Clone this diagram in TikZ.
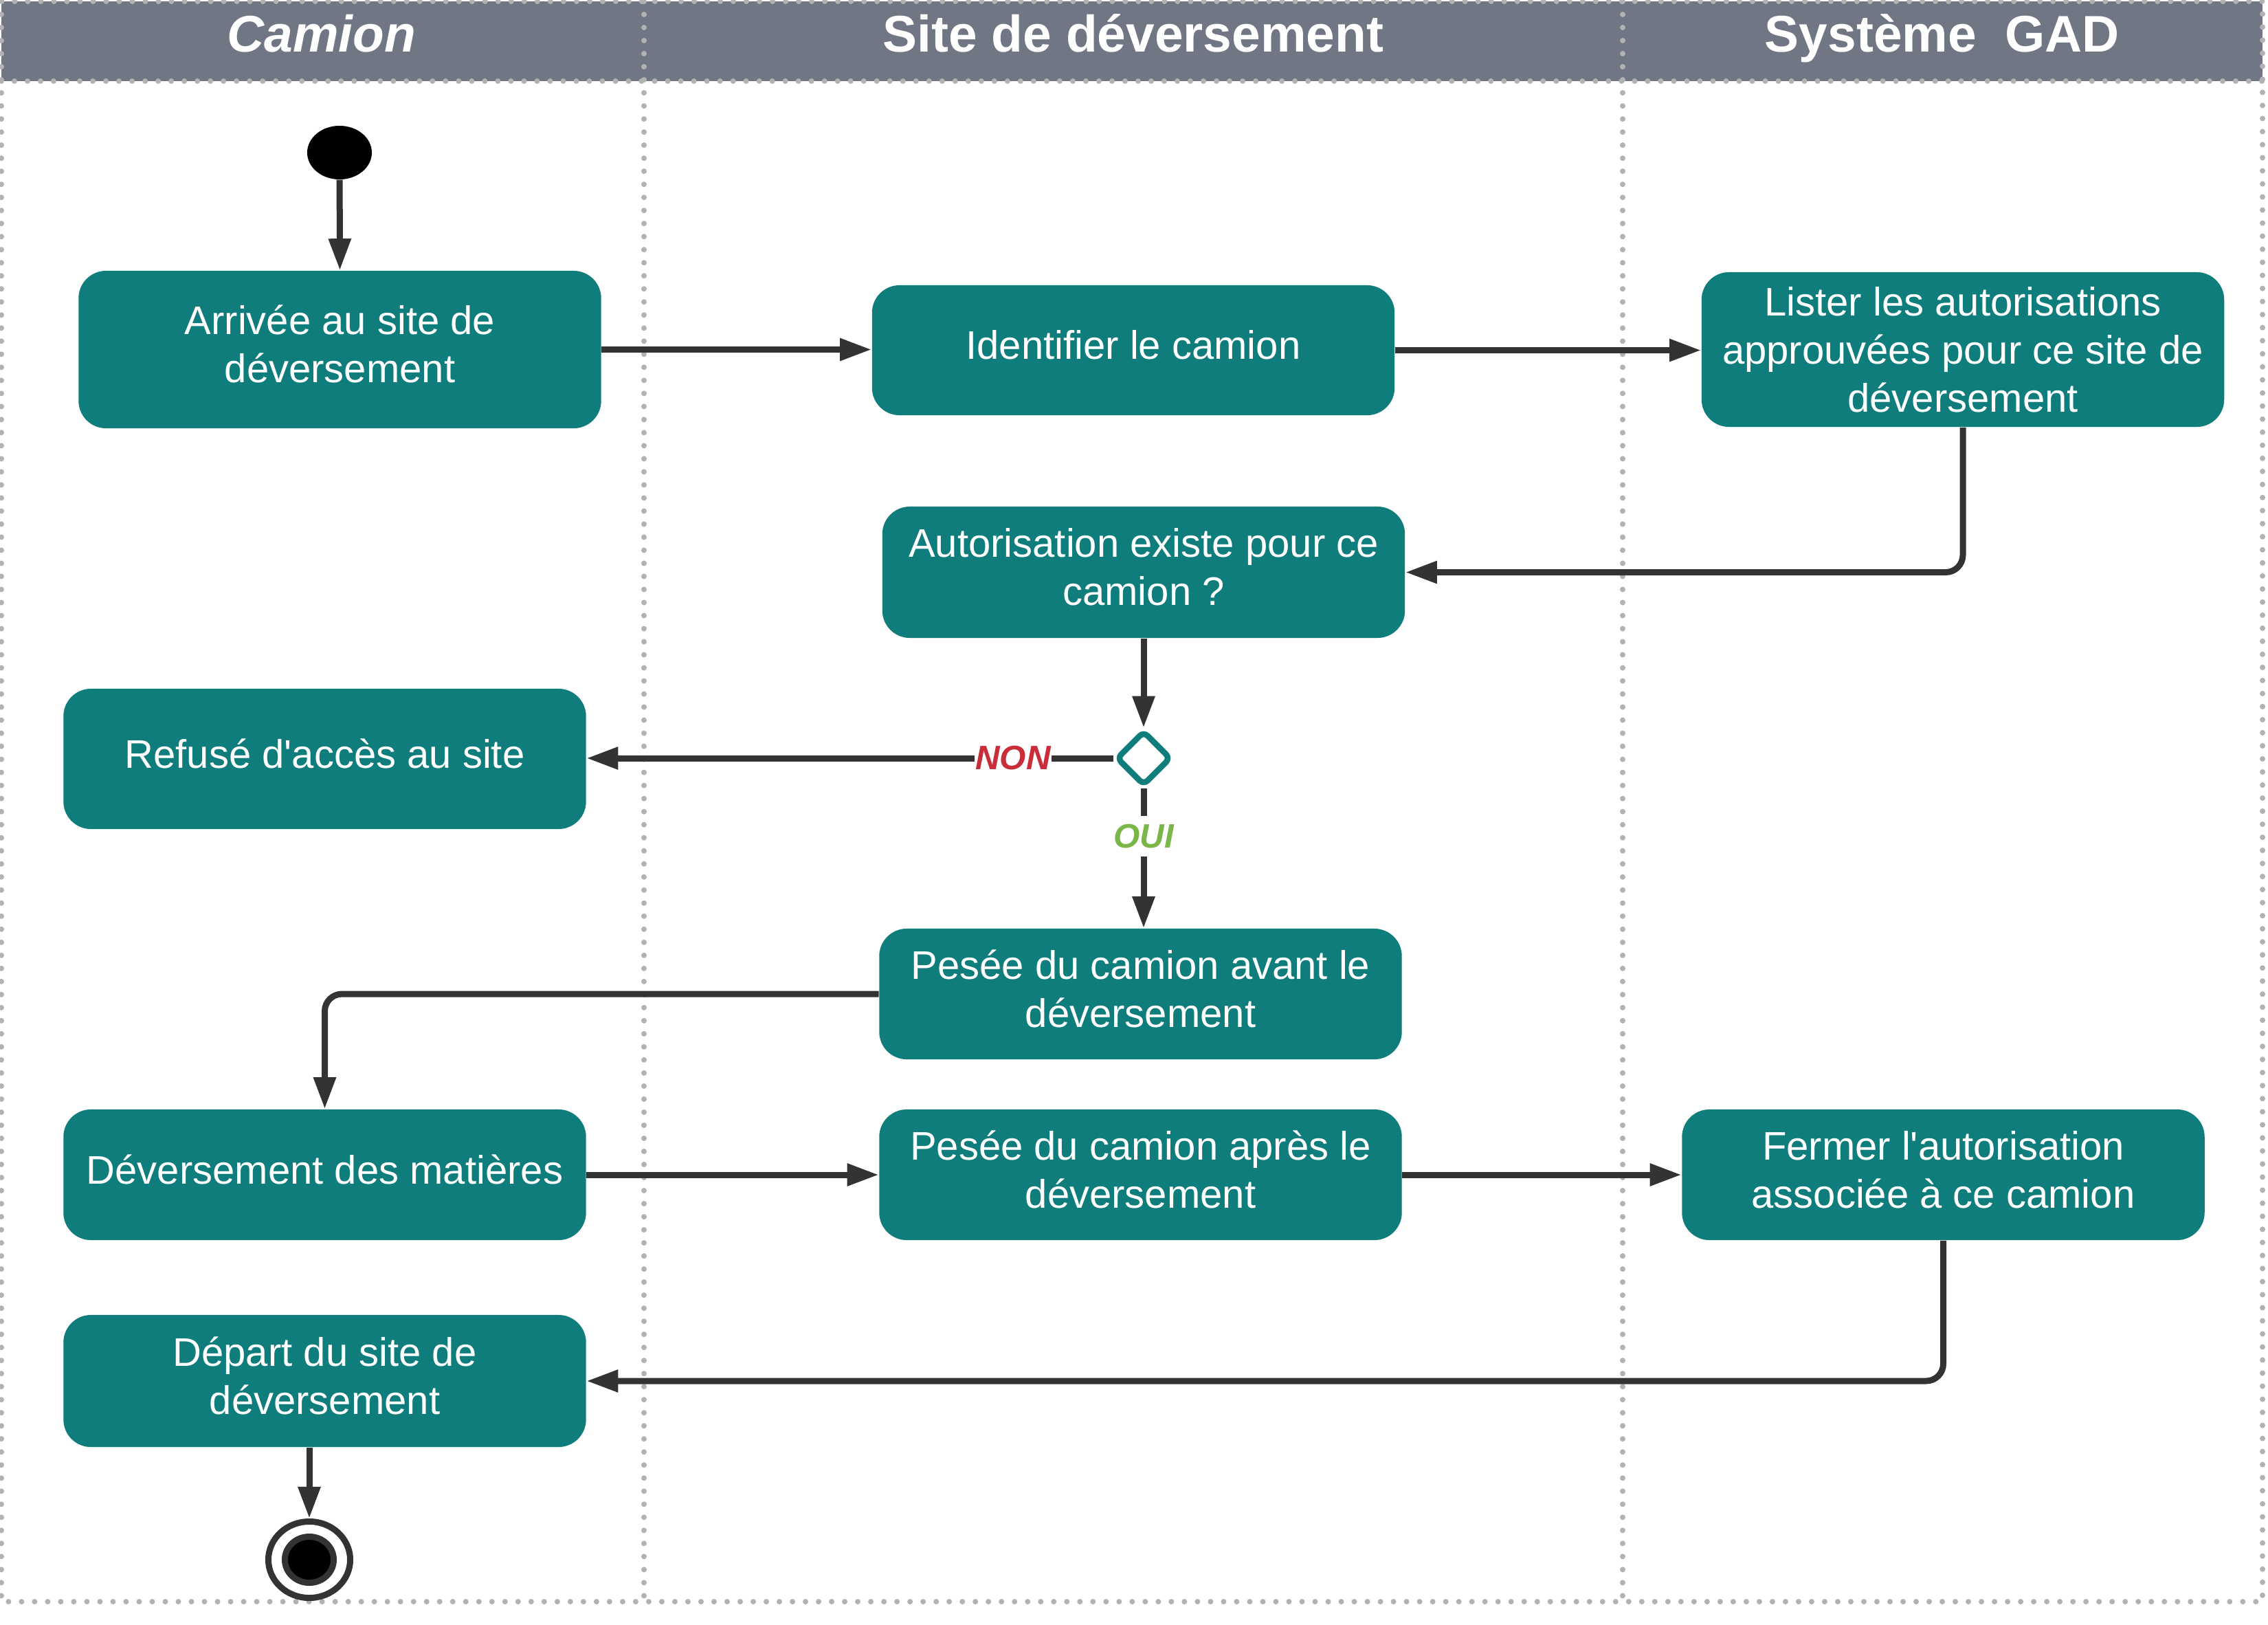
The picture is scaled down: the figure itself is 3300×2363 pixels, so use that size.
\documentclass[tikz,border=0pt]{standalone}
\usepackage{fontspec}
\setmainfont{Liberation Sans}[Ligatures=TeXOff]
\usetikzlibrary{arrows.meta,shapes.geometric}
\definecolor{tealbox}{HTML}{0E7D7B}
\definecolor{hdrgray}{HTML}{707684}
\definecolor{dotgray}{HTML}{B2B2B2}
\definecolor{darkline}{HTML}{333333}
\definecolor{nonred}{HTML}{C92D39}
\definecolor{ouigreen}{HTML}{7AB648}
\begin{document}
\begin{tikzpicture}[x=0.01cm,y=-0.01cm,
  box/.style={rectangle, rounded corners=0.4cm, fill=tealbox, text=white, align=center,
    minimum width=7.6cm, inner sep=0pt, text depth=0.16cm, font=\fontsize{16.5pt}{19.9pt}\selectfont},
  arr/.style={draw=darkline, line width=0.09cm, -{Triangle[length=0.46cm,width=0.31cm]}},
  lane/.style={draw=dotgray, line width=0.08cm, dash pattern=on 0pt off 0.19cm, line cap=round},
  hdr/.style={text=white, font=\fontsize{21.3pt}{25pt}\selectfont\bfseries, anchor=base, inner sep=0pt},
  lbl/.style={fill=white, font=\fontsize{14pt}{16pt}\selectfont\bfseries\itshape, inner xsep=0.01cm, inner ysep=0.12cm}
]
\useasboundingbox (0,0) rectangle (3300,2363);
% header band
\fill[hdrgray] (2,2) rectangle (3292,118);
% swimlane borders
\draw[lane] (2,2) rectangle (3292,2330);
\draw[lane] (2,118) -- (3292,118);
\draw[lane] (937,2) -- (937,2330);
\draw[lane] (2361,2) -- (2361,2330);
% headers
\node[hdr, font=\fontsize{21.3pt}{25pt}\selectfont\bfseries\itshape] (h1) at (468,75) {Camion};
\node[hdr] (h2) at (1649,75) {Site de déversement};
\node[hdr] (h3) at (2826,75) {Système\ \ GAD};
% start / end
\node[ellipse, fill=black, minimum width=0.94cm, minimum height=0.78cm, inner sep=0pt] (start) at (494,222) {};
\node[ellipse, draw=darkline, fill=white, line width=0.09cm, minimum width=1.19cm, minimum height=1.11cm, inner sep=0pt] (endn) at (450,2269) {};
\node[ellipse, draw=darkline, fill=black, line width=0.09cm, minimum width=0.71cm, minimum height=0.67cm, inner sep=0pt] (endin) at (450,2269) {};
% activity boxes
\node[box, minimum height=2.29cm] (arrivee) at (494.5,508.5) {Arrivée au site de\\déversement};
\node[box, minimum height=1.89cm] (ident) at (1649,509.5) {Identifier le camion};
\node[box, minimum height=2.25cm, text depth=0.01cm] (lister) at (2856,508.5) {Lister les autorisations\\approuvées pour ce site de\\déversement};
\node[box, minimum height=1.91cm] (autor) at (1664,832.5) {Autorisation existe pour ce\\camion ?};
\node[box, minimum height=2.04cm] (refuse) at (472.5,1104) {Refusé d'accès au site};
\node[box, minimum height=1.90cm] (avant) at (1659.5,1446) {Pesée du camion avant le\\déversement};
\node[box, minimum height=1.90cm] (deverse) at (472.5,1709) {Déversement des matières};
\node[box, minimum height=1.90cm] (apres) at (1659.5,1709) {Pesée du camion après le\\déversement};
\node[box, minimum height=1.90cm] (fermer) at (2827.5,1709) {Fermer l'autorisation\\associée à ce camion};
\node[box, minimum height=1.92cm] (depart) at (472.5,2009) {Départ du site de\\déversement};
% decision
\node[diamond, draw=tealbox, fill=white, line width=0.085cm, minimum width=0.8cm, minimum height=0.8cm, inner sep=0pt, rounded corners=0.08cm] (dia) at (1664,1103) {};
% connectors
\draw[arr] (start) -- (arrivee.north);
\draw[arr] (arrivee.east) -- (arrivee.east -| ident.west);
\draw[arr] (ident.east) -- (ident.east -| lister.west);
\draw[arr, rounded corners=0.25cm] (lister.south) |- (autor.east);
\draw[arr] (autor.south) -- (dia.north);
\draw[arr] (dia.west) -- node[lbl, text=nonred, pos=0.19] {NON} (dia.west -| refuse.east);
\draw[arr] (dia.south) -- node[lbl, text=ouigreen, pos=0.34] {OUI} (dia.south |- avant.north);
\draw[arr, rounded corners=0.25cm] (avant.west) -| (deverse.north);
\draw[arr] (deverse.east) -- (apres.west);
\draw[arr] (apres.east) -- (fermer.west);
\draw[arr, rounded corners=0.25cm] (fermer.south) |- (depart.east);
\draw[arr] (depart.south -| endn.north) -- (endn.north);
\end{tikzpicture}
\end{document}
